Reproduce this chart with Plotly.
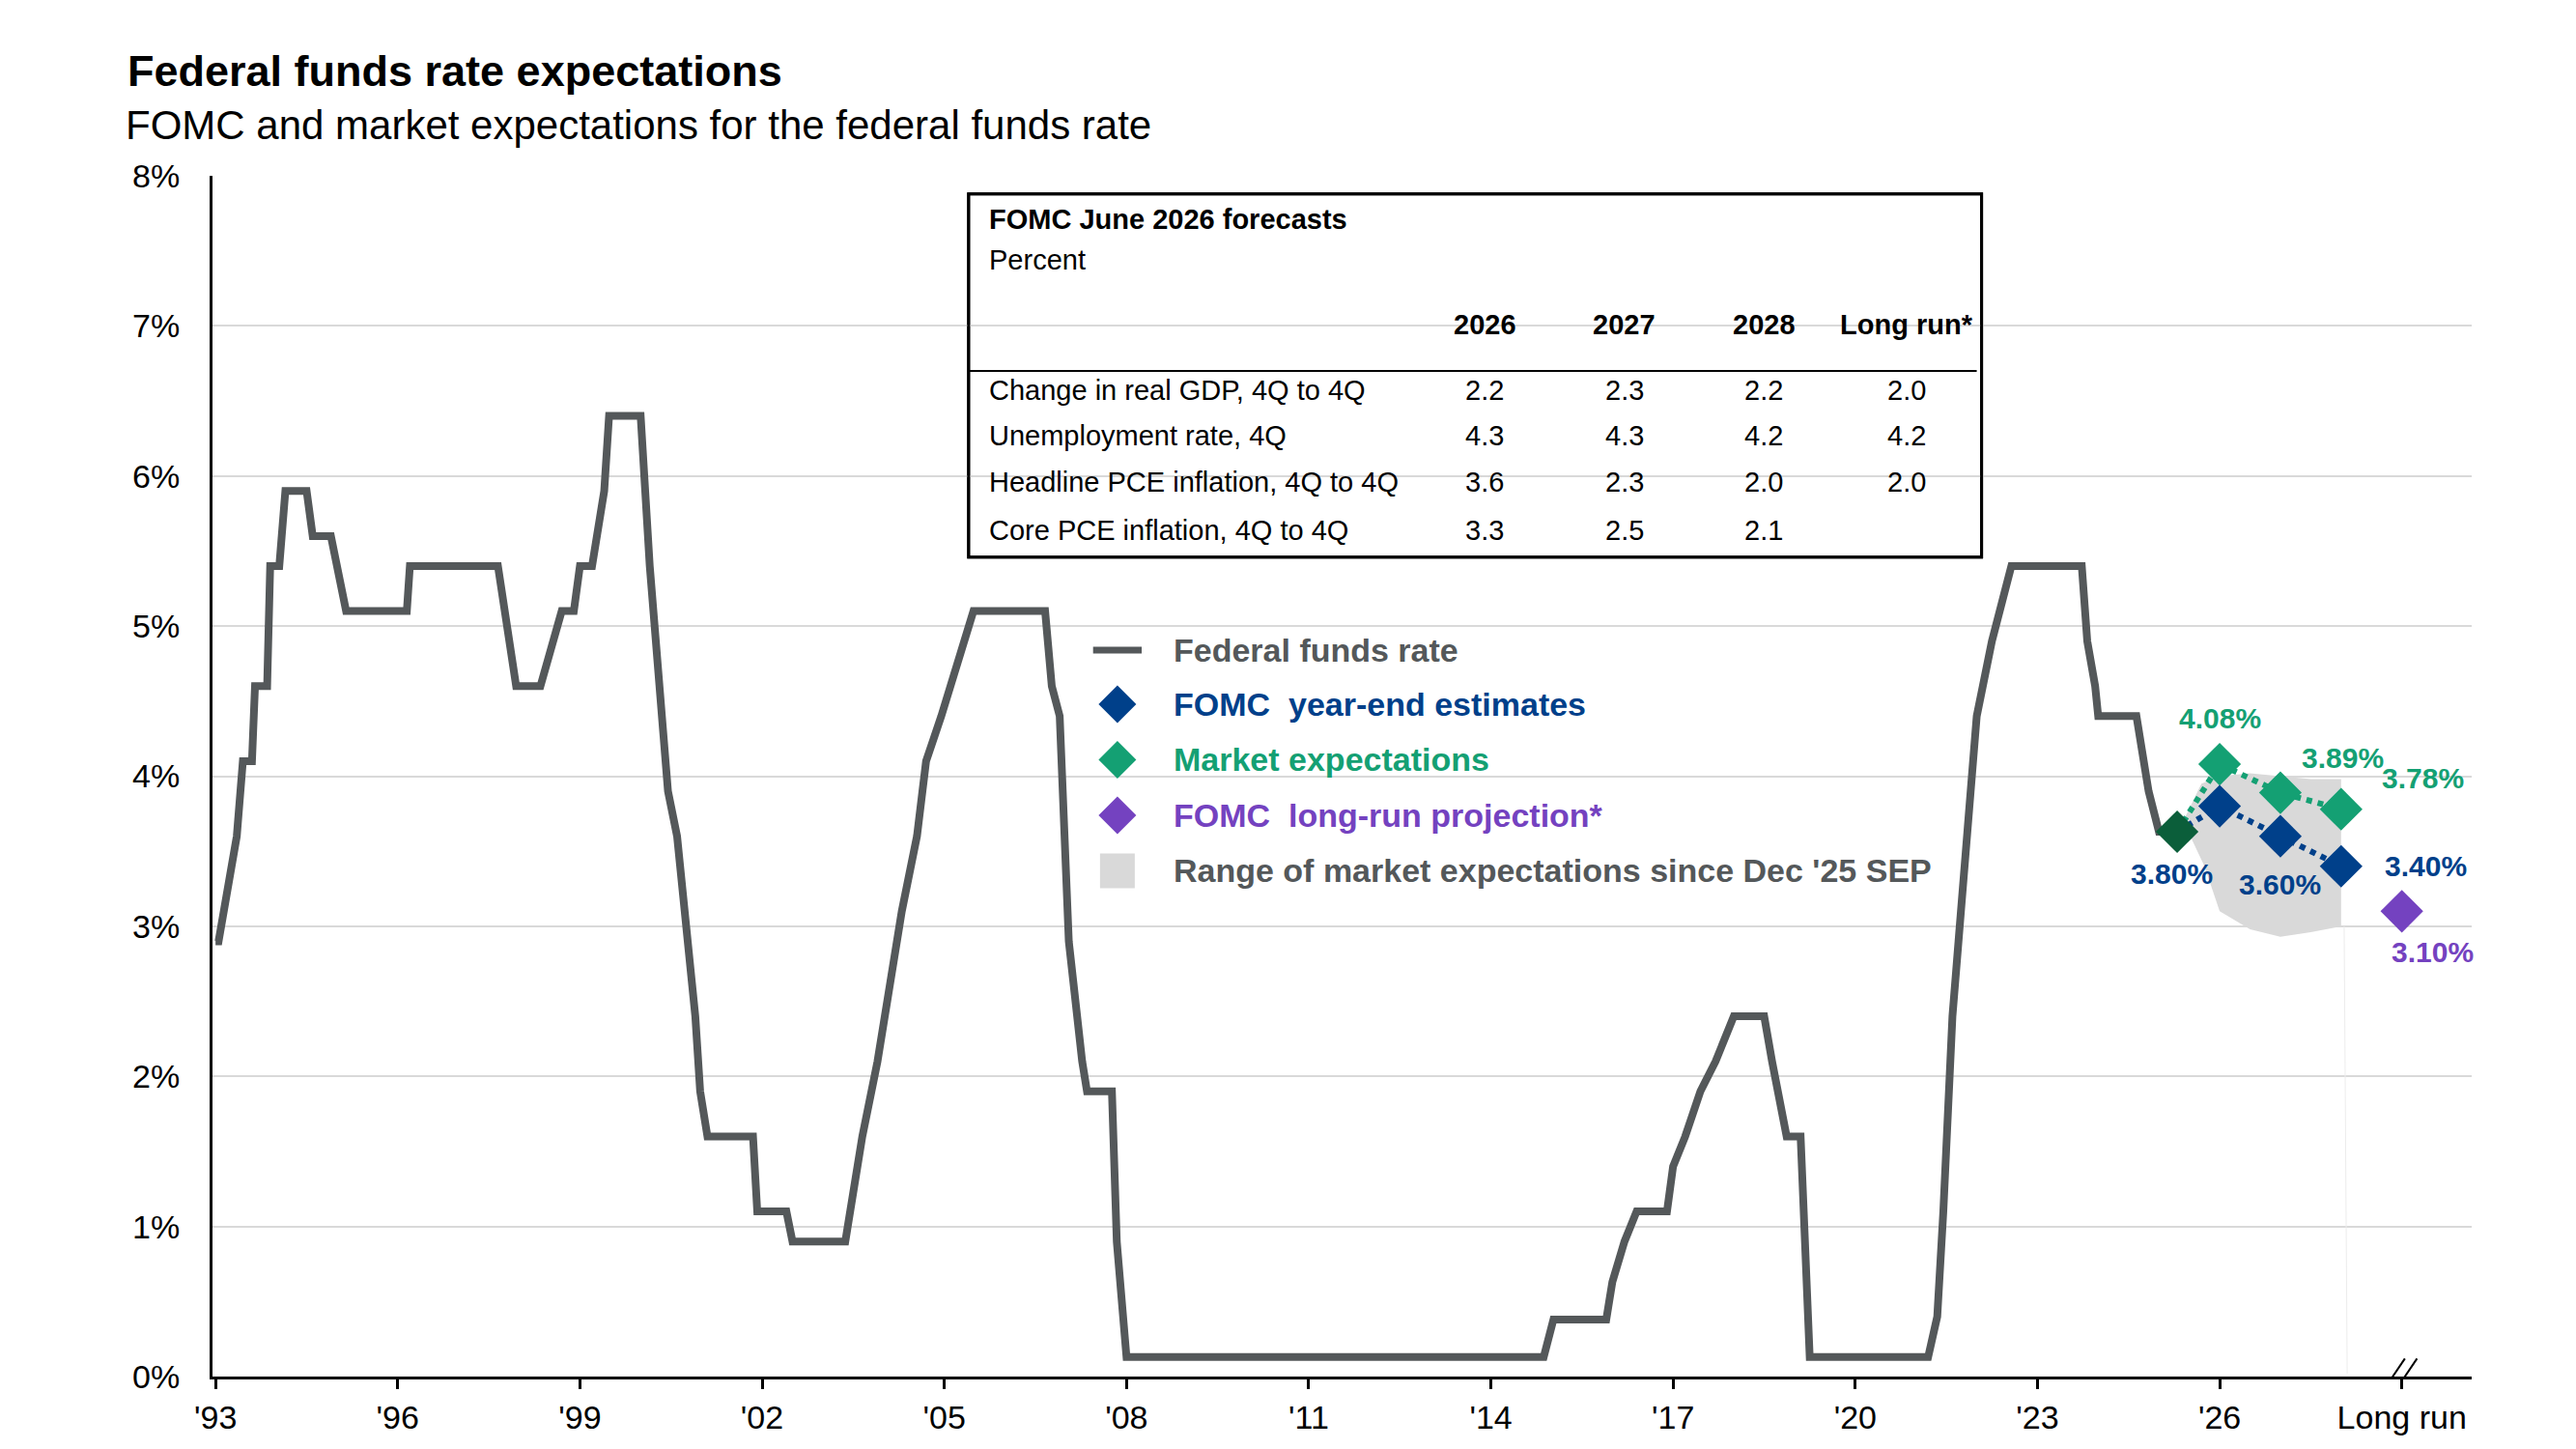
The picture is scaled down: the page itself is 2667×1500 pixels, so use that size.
import plotly.graph_objects as go

# Federal funds rate (year position, percent)
ffr_x = [1993.0,1993.05,1993.35,1993.45,1993.6,1993.65,1993.85,1993.9,1994.05,1994.15,1994.5,1994.6,1994.9,1995.15,
         1996.15,1996.2,1997.65,1997.95,1998.35,1998.55,1998.7,1998.9,1999.0,1999.2,1999.4,1999.48,2000.0,2000.15,
         2000.45,2000.6,2000.9,2000.98,2001.1,2001.85,2001.92,2002.4,2002.5,2003.37,2003.45,2003.65,2003.9,2004.1,
         2004.3,2004.55,2004.7,2004.95,2005.1,2005.3,2005.48,2006.66,2006.77,2006.9,2007.05,2007.27,2007.35,2007.76,
         2007.84,2008.0,2014.87,2015.03,2015.9,2016.0,2016.2,2016.4,2016.9,2017.0,2017.2,2017.45,2017.7,2018.0,
         2018.5,2018.63,2018.87,2019.1,2019.25,2021.2,2021.35,2021.45,2021.6,2021.7,2022.0,2022.25,2022.38,2022.57,
         2023.73,2023.82,2023.95,2024.0,2024.63,2024.83,2025.0,2025.3]
ffr_y = [2.9,2.9,3.6,4.1,4.1,4.6,4.6,5.4,5.4,5.9,5.9,5.6,5.6,5.1,
         5.1,5.4,5.4,4.6,4.6,4.9,5.1,5.1,5.4,5.4,5.9,6.4,6.4,5.4,
         3.9,3.6,2.4,1.9,1.6,1.6,1.1,1.1,0.9,0.9,1.1,1.6,2.1,2.6,
         3.1,3.6,4.1,4.4,4.6,4.9,5.1,5.1,4.6,4.4,2.9,2.1,1.9,1.9,
         0.9,0.13,0.13,0.38,0.38,0.63,0.9,1.1,1.1,1.4,1.6,1.9,2.1,2.4,
         2.4,2.1,1.6,1.6,0.13,0.13,0.4,1.1,2.4,2.9,4.4,4.9,5.1,5.4,
         5.4,4.9,4.6,4.4,4.4,3.9,3.63,3.63]

start_x = [2025.3]; start_y = [3.63]
fomc_x = [2026.0, 2027.0, 2028.0]; fomc_y = [3.80, 3.60, 3.40]
mkt_x = [2026.0, 2027.0, 2028.0]; mkt_y = [4.08, 3.89, 3.78]
lr_x = [2029.0]; lr_y = [3.10]

range_x = [2025.4, 2025.7, 2026.0, 2026.5, 2027.0, 2027.5, 2028.0, 2028.0, 2027.5, 2027.0, 2026.5, 2026.0, 2025.75]
range_y = [3.70, 3.95, 4.00, 4.02, 4.00, 3.98, 3.98, 3.00, 2.96, 2.93, 2.98, 3.10, 3.40]

tick_vals = [1993, 1996, 1999, 2002, 2005, 2008, 2011, 2014, 2017, 2020, 2023, 2026, 2029]
tick_text = ["'93", "'96", "'99", "'02", "'05", "'08", "'11", "'14", "'17", "'20", "'23", "'26", "Long run"]

tbl_cols = ["2026", "2027", "2028", "Long run*"]
tbl_rows = ["Change in real GDP, 4Q to 4Q", "Unemployment rate, 4Q", "Headline PCE inflation, 4Q to 4Q", "Core PCE inflation, 4Q to 4Q"]
tbl_vals = [["2.2", "2.3", "2.2", "2.0"], ["4.3", "4.3", "4.2", "4.2"], ["3.6", "2.3", "2.0", "2.0"], ["3.3", "2.5", "2.1", ""]]

GREY = "#54585a"; NAVY = "#00408a"; GREEN = "#14a073"; DKGREEN = "#0b5e3a"; PURPLE = "#7442c0"
FONT = "Liberation Sans"
DSZ = 34

fig = go.Figure()
fig.add_shape(type="rect", x0=2005.4, x1=2022.08, y0=5.46, y1=7.88, line=dict(color="black", width=3), fillcolor="white", layer="below")
fig.add_shape(type="line", x0=2005.4, x1=2022.0, y0=6.7, y1=6.7, line=dict(color="black", width=2), layer="above")
fig.add_shape(type="rect", x0=2005.4, x1=2022.08, y0=5.46, y1=7.88, line=dict(color="black", width=3), fillcolor="rgba(0,0,0,0)", layer="above")
for dx in (-0.15, 0.05):
    fig.add_shape(type="line", x0=2028.8 + dx, x1=2029.2 + dx, y0=-0.12, y1=0.12, line=dict(color="black", width=2), layer="above")

fig.add_trace(go.Scatter(x=range_x, y=range_y, fill="toself", fillcolor="#d9d9d9", line=dict(width=0), mode="lines", hoverinfo="skip"))
fig.add_trace(go.Scatter(x=[2028.05, 2028.1], y=[3.0, 0.02], mode="lines", line=dict(color="#ececec", width=1)))
fig.add_trace(go.Scatter(x=ffr_x, y=ffr_y, mode="lines", line=dict(color=GREY, width=8)))
fig.add_trace(go.Scatter(x=start_x + mkt_x, y=start_y + mkt_y, mode="lines", line=dict(color=GREEN, width=6, dash="dot")))
fig.add_trace(go.Scatter(x=start_x + fomc_x, y=start_y + fomc_y, mode="lines", line=dict(color=NAVY, width=6, dash="dot")))
fig.add_trace(go.Scatter(x=mkt_x, y=mkt_y, mode="markers", marker=dict(symbol="diamond", size=DSZ, color=GREEN)))
fig.add_trace(go.Scatter(x=fomc_x, y=fomc_y, mode="markers", marker=dict(symbol="diamond", size=DSZ, color=NAVY)))
fig.add_trace(go.Scatter(x=start_x, y=start_y, mode="markers", marker=dict(symbol="diamond", size=DSZ, color=DKGREEN)))
fig.add_trace(go.Scatter(x=lr_x, y=lr_y, mode="markers", marker=dict(symbol="diamond", size=DSZ, color=PURPLE)))

ann = []
lab_font = lambda c: dict(size=30, color=c, family=FONT, weight="bold")
m_off = [(0, 48), (65, 36), (85, 32)]
for x, y, (ox, oy) in zip(mkt_x, mkt_y, m_off):
    ann.append(dict(x=x, y=y, text=f"{y:.2f}%", showarrow=False, xshift=ox, yshift=oy, font=lab_font(GREEN)))
f_off = [(-50, -70), (0, -50), (88, 0)]
for x, y, (ox, oy) in zip(fomc_x, fomc_y, f_off):
    ann.append(dict(x=x, y=y, text=f"{y:.2f}%", showarrow=False, xshift=ox, yshift=oy, font=lab_font(NAVY)))
ann.append(dict(x=lr_x[0], y=lr_y[0], text=f"{lr_y[0]:.2f}%", showarrow=False, xshift=32, yshift=-42, font=lab_font(PURPLE)))

leg_y = [4.84, 4.48, 4.11, 3.74, 3.37]
leg_text = ["Federal funds rate", "FOMC  year-end estimates", "Market expectations", "FOMC  long-run projection*",
            "Range of market expectations since Dec '25 SEP"]
leg_col = [GREY, NAVY, GREEN, PURPLE, GREY]
fig.add_trace(go.Scatter(x=[2007.85] * 3, y=leg_y[1:4], mode="markers",
                         marker=dict(symbol="diamond", size=30, color=leg_col[1:4])))
fig.add_trace(go.Scatter(x=[2007.85], y=[leg_y[4]], mode="markers", marker=dict(symbol="square", size=36, color="#d9d9d9")))
fig.add_trace(go.Scatter(x=[2007.45, 2008.25], y=[leg_y[0]] * 2, mode="lines", line=dict(color=GREY, width=7)))
for yv, t, c in zip(leg_y, leg_text, leg_col):
    ann.append(dict(x=2008.75, y=yv, text=t, showarrow=False, xanchor="left", yanchor="middle",
                    font=dict(size=34, color=c, family=FONT, weight="bold")))

TF = dict(size=29, family=FONT, color="black")
ann.append(dict(x=2005.7, y=7.71, text="<b>FOMC June 2026 forecasts</b>", showarrow=False, xanchor="left", font=TF))
ann.append(dict(x=2005.7, y=7.44, text="Percent", showarrow=False, xanchor="left", font=TF))
col_x = [2013.9, 2016.2, 2018.5, 2020.85]
row_y = [6.57, 6.27, 5.96, 5.64]
for cx, ct in zip(col_x, tbl_cols):
    ann.append(dict(x=cx, y=7.01, text=f"<b>{ct}</b>", showarrow=False, font=TF))
for ry, rl, vals in zip(row_y, tbl_rows, tbl_vals):
    ann.append(dict(x=2005.7, y=ry, text=rl, showarrow=False, xanchor="left", font=TF))
    for cx, v in zip(col_x, vals):
        ann.append(dict(x=cx, y=ry, text=v, showarrow=False, font=TF))

ann.append(dict(xref="paper", yref="paper", x=-90 / 2339, y=1 + (174 - 65) / 1243, xanchor="left", yanchor="middle",
                text="<b>Federal funds rate expectations</b>", showarrow=False, font=dict(size=45, family=FONT, color="black")))
ann.append(dict(xref="paper", yref="paper", x=-92 / 2339, y=1 + (174 - 122) / 1243, xanchor="left", yanchor="middle",
                text="FOMC and market expectations for the federal funds rate", showarrow=False, font=dict(size=42, family=FONT, color="black")))

fig.update_layout(
    width=2667, height=1500, plot_bgcolor="white", paper_bgcolor="white", showlegend=False,
    margin=dict(l=212, r=116, t=174, b=83),
    font=dict(family=FONT, color="black"),
    xaxis=dict(range=[1992.95, 2030.15], tickvals=tick_vals, ticktext=tick_text, showgrid=False, zeroline=False,
               showline=True, linecolor="black", linewidth=3, ticks="outside", ticklen=10, tickwidth=3, tickcolor="black",
               tickfont=dict(size=34, family=FONT, color="black")),
    yaxis=dict(range=[0, 8], dtick=1, ticksuffix="%", showgrid=True, gridcolor="#d9d9d9", gridwidth=2, zeroline=False,
               showline=True, linecolor="black", linewidth=3, tickfont=dict(size=34, family=FONT, color="black"), ticklabelstandoff=24),
    annotations=ann,
)
fig.write_html("out.html")
